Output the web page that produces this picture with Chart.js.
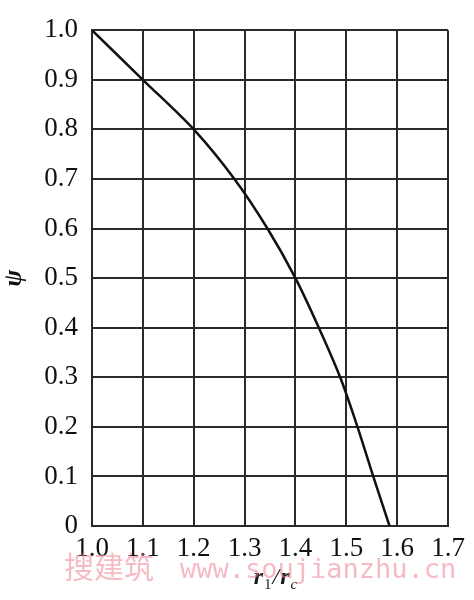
<!DOCTYPE html>
<html>
<head>
<meta charset="utf-8">
<script src="https://cdn.jsdelivr.net/npm/chart.js@4/dist/chart.umd.min.js"></script>
<style>
  html, body { margin: 0; padding: 0; background: #fff; }
  #wrap { width: 474px; height: 600px; }
</style>
</head>
<body>
<div id="wrap"><canvas id="psiChart" width="474" height="600"></canvas></div>
<script>
// r1/rc values, one per psi gridline
const rRatio = [1.0, 1.1, 1.2, 1.28, 1.345, 1.40, 1.446, 1.488, 1.522, 1.553, 1.585];
const psi = [1.0, 0.9, 0.8, 0.7, 0.6, 0.5, 0.4, 0.3, 0.2, 0.1, 0];
const xTicks = [1.0, 1.1, 1.2, 1.3, 1.4, 1.5, 1.6, 1.7];
const yTicks = [0, 0.1, 0.2, 0.3, 0.4, 0.5, 0.6, 0.7, 0.8, 0.9, 1.0];

const gridColor = '#2a2a2a';
const serif = '"Liberation Serif", "DejaVu Serif", serif';

// x-axis title with subscripts, plus the pink watermark
const extraText = {
  id: 'extraText',
  afterDraw(chart) {
    const { ctx, chartArea } = chart;
    ctx.save();
    // r1/rc
    const cx = (chartArea.left + chartArea.right) / 2 + 6;
    const base = 584;
    ctx.fillStyle = '#1a1a1a';
    ctx.textBaseline = 'alphabetic';
    ctx.textAlign = 'left';
    const parts = [
      ['r', 'italic bold 24px ' + serif, 0],
      ['1', '15px ' + serif, 5],
      ['/', 'italic 24px ' + serif, 0],
      ['r', 'italic bold 24px ' + serif, 0],
      ['c', 'italic 15px ' + serif, 5],
    ];
    let total = 0;
    parts.forEach((p) => { ctx.font = p[1]; total += ctx.measureText(p[0]).width + 1; });
    let x = cx - total / 2;
    parts.forEach((p) => {
      ctx.font = p[1];
      ctx.fillText(p[0], x, base + p[2]);
      x += ctx.measureText(p[0]).width + 1;
    });
    // watermark
    ctx.fillStyle = 'rgba(238, 130, 145, 0.55)';
    ctx.font = '30px "Noto Sans CJK SC", sans-serif';
    ctx.fillText('搜建筑', 64, 578);
    ctx.font = '27px "DejaVu Sans Mono", monospace';
    ctx.fillText('www.soujianzhu.cn', 180, 578);
    ctx.restore();
  },
};

const ctx = document.getElementById('psiChart').getContext('2d');
const psiChart = new Chart(ctx, {
  type: 'line',
  data: {
    datasets: [{
      data: rRatio.map((r, i) => ({ x: r, y: psi[i] })),
      borderColor: '#111',
      borderWidth: 2.5,
      pointRadius: 0,
      tension: 0.3,
      fill: false,
    }],
  },
  options: {
    responsive: false,
    animation: false,
    layout: { padding: { top: 29, right: 26, left: 0, bottom: 0 } },
    plugins: {
      legend: { display: false },
      tooltip: { enabled: false },
    },
    scales: {
      x: {
        type: 'linear',
        min: xTicks[0],
        max: xTicks[xTicks.length - 1],
        afterBuildTicks: (axis) => { axis.ticks = xTicks.map((v) => ({ value: v })); },
        afterFit: (axis) => { axis.height = 74; },
        grid: { color: gridColor, lineWidth: 2, drawTicks: false },
        border: { color: gridColor, width: 2 },
        ticks: {
          padding: 7,
          color: '#111',
          font: { family: serif, size: 27 },
          callback: (v) => v.toFixed(1),
        },
      },
      y: {
        type: 'linear',
        min: 0,
        max: 1,
        afterBuildTicks: (axis) => { axis.ticks = yTicks.map((v) => ({ value: v })); },
        afterFit: (axis) => { axis.width = 92; },
        grid: { color: gridColor, lineWidth: 2, drawTicks: false },
        border: { color: gridColor, width: 2 },
        title: {
          display: true,
          text: 'ψ',
          color: '#111',
          padding: { top: 0, bottom: 0 },
          font: { family: serif, size: 25, style: 'italic', weight: 'bold' },
        },
        ticks: {
          padding: 14,
          color: '#111',
          font: { family: serif, size: 27 },
          callback: (v) => (v === 0 ? '0' : v.toFixed(1)),
        },
      },
    },
  },
  plugins: [extraText],
});
</script>
</body>
</html>
